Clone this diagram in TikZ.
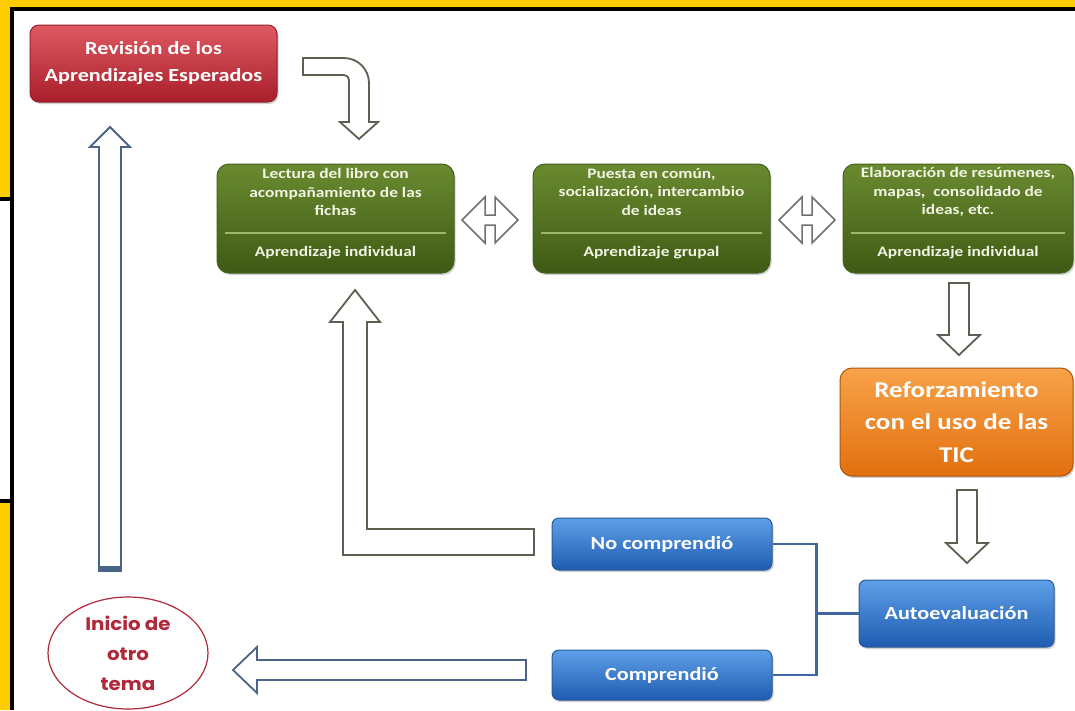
\documentclass[tikz,border=0pt]{standalone}
\usepackage{fontspec}
\setmainfont{Carlito}[FakeStretch=1.2]
\newfontfamily\gothic{Poppins}[FakeStretch=1.1]
\usetikzlibrary{shapes.geometric,shadows}
\definecolor{frameyellow}{HTML}{FFCC00}
\definecolor{redtop}{HTML}{DE5A62}
\definecolor{redbot}{HTML}{A81E2A}
\definecolor{redborder}{HTML}{96202A}
\definecolor{greentop}{HTML}{6A8A30}
\definecolor{greenbot}{HTML}{3E5A14}
\definecolor{greenborder}{HTML}{44621A}
\definecolor{gsep}{HTML}{9DB86C}
\definecolor{gtextcol}{HTML}{F2F4E4}
\definecolor{oratop}{HTML}{F8A24A}
\definecolor{orabot}{HTML}{E2700E}
\definecolor{oraborder}{HTML}{A85810}
\definecolor{bluetop}{HTML}{5E9FE8}
\definecolor{bluebot}{HTML}{1F5CB0}
\definecolor{blueborder}{HTML}{2A5A9A}
\definecolor{arrowolive}{HTML}{5C6050}
\definecolor{arrowgray}{HTML}{707070}
\definecolor{arrowblue}{HTML}{4A6488}
\definecolor{linkblue}{HTML}{3F66A0}
\definecolor{ellred}{HTML}{B0283A}
\tikzset{
  shadowed/.style={drop shadow={opacity=0.35, shadow xshift=1.5pt, shadow yshift=-2pt}},
  redbox/.style={shadowed, draw=redborder, line width=1pt, rounded corners=9pt,
    top color=redtop, bottom color=redbot, text=white, align=center, inner sep=0pt,
    font=\bfseries\fontsize{18.5}{27}\selectfont},
  greenbox/.style={shadowed, draw=greenborder, line width=1pt, rounded corners=12pt,
    top color=greentop, bottom color=greenbot, inner sep=0pt},
  gtext/.style={text=gtextcol, align=center, inner sep=0pt,
    font=\bfseries\fontsize{14.5}{18.5}\selectfont},
  sepline/.style={draw=gsep, line width=1.5pt},
  orangebox/.style={shadowed, draw=oraborder, line width=1pt, rounded corners=12pt,
    top color=oratop, bottom color=orabot, text=white, align=center, inner sep=0pt,
    font=\bfseries\fontsize{22.5}{32.5}\selectfont},
  bluebox/.style={shadowed, draw=blueborder, line width=1pt, rounded corners=7pt,
    top color=bluetop, bottom color=bluebot, text=white, align=center, inner sep=0pt,
    font=\bfseries\fontsize{18.5}{22}\selectfont},
  ellnode/.style={ellipse, draw=ellred, line width=1.2pt, fill=white, inner sep=0pt,
    text=ellred, align=center, font=\gothic\bfseries\fontsize{18}{30}\selectfont},
  olivearrow/.style={draw=arrowolive, line width=1.8pt, fill=white, line join=miter},
  grayarrow/.style={draw=arrowgray, line width=1.5pt, fill=white, line join=miter},
  bluearrow/.style={draw=arrowblue, line width=1.8pt, fill=white, line join=miter},
  link/.style={draw=linkblue, line width=2.5pt},
  dblarrow/.pic={\draw[grayarrow] (-28,0) -- (-5,-23) -- (-5,-5) -- (5,-5) -- (5,-23)
     -- (28,0) -- (5,23) -- (5,5) -- (-5,5) -- (-5,23) -- cycle;}
}
\begin{document}
\begin{tikzpicture}[x=1pt,y=-1pt]
\useasboundingbox (0,0) rectangle (1075,710);
% frame
\fill[frameyellow] (0,0) rectangle (1075,710);
\fill[white] (12,9) rectangle (1075,710);
\fill[white] (0,199) rectangle (12,501);
\draw[black, line width=3.5pt] (12,710) -- (12,8.75) -- (1075,8.75);
\draw[black, line width=3.5pt] (0,199) -- (12,199);
\draw[black, line width=3.5pt] (0,501) -- (12,501);

% red box
\node[redbox, minimum width=247pt, minimum height=77pt] (rev) at (153.5,63.5)
  {Revisión de los\\Aprendizajes Esperados};

% curved arrow
\draw[olivearrow] (303,58) -- (344,58) arc[start angle=-90,end angle=0,radius=25]
  -- (369,122) -- (378,122) -- (359,139) -- (340,122) -- (349,122) -- (349,80)
  arc[start angle=0,end angle=-90,radius=5] -- (303,75) -- cycle;

% green boxes
\node[greenbox, minimum width=237pt, minimum height=109pt] (g1) at (335.5,218.5) {};
\node[greenbox, minimum width=237pt, minimum height=109pt] (g2) at (651.5,218.5) {};
\node[greenbox, minimum width=230pt, minimum height=109pt] (g3) at (958,218.5) {};
\draw[sepline] (225,233) -- (446,233);
\draw[sepline] (541,233) -- (762,233);
\draw[sepline] (851,233) -- (1065,233);
\node[gtext] (g1t) at (335.5,192) {Lectura del libro con\\acompañamiento de las\\fichas};
\node[gtext] (g1b) at (335.5,253) {Aprendizaje individual};
\node[gtext] (g2t) at (651.5,192) {Puesta en común,\\socialización, intercambio\\de ideas};
\node[gtext] (g2b) at (651.5,253) {Aprendizaje grupal};
\node[gtext] (g3t) at (958,192) {Elaboración de resúmenes,\\mapas,\ \ consolidado de\\ideas, etc.};
\node[gtext] (g3b) at (958,253) {Aprendizaje individual};

% double arrows
\pic at (490,220) {dblarrow};
\pic at (807,220) {dblarrow};

% orange box
\node[orangebox, minimum width=233pt, minimum height=108pt] (ref) at (956.5,422)
  {Reforzamiento\\con el uso de las\\TIC};

% down arrows
\draw[olivearrow] (949,283) -- (969,283) -- (969,335) -- (980,335) -- (959,355)
  -- (938,335) -- (949,335) -- cycle;
\draw[olivearrow] (957,490) -- (977,490) -- (977,543) -- (988,543) -- (967,563)
  -- (946,543) -- (957,543) -- cycle;

% blue boxes
\node[bluebox, minimum width=195pt, minimum height=67pt] (ae) at (956.5,613.5) {Autoevaluación};
\node[bluebox, minimum width=220pt, minimum height=52pt] (nc) at (662,544) {No comprendió};
\node[bluebox, minimum width=220pt, minimum height=50pt] (co) at (662,675) {Comprendió};
\draw[link] (nc.east) -- ++(44,0) |- (co.east);
\draw[link] (ae.west) -- ++(-43.5,0);

% L arrow back to first green box
\draw[olivearrow] (355,290) -- (380,322) -- (367,322) -- (367,529) -- (534,529)
  -- (534,555) -- (343,555) -- (343,322) -- (330,322) -- cycle;

% long blue up arrow
\draw[bluearrow] (110,127) -- (130,147) -- (121,147) -- (121,571) -- (99,571)
  -- (99,147) -- (90,147) -- cycle;
\fill[arrowblue] (99.9,566) rectangle (120.1,571);

% ellipse
\node[ellnode, minimum width=160pt, minimum height=112pt] (ini) at (128,653)
  {Inicio de\\otro\\tema};

% left blue arrow
\draw[bluearrow] (233,670) -- (257,647) -- (257,660) -- (526,660) -- (526,680)
  -- (257,680) -- (257,693) -- cycle;
\end{tikzpicture}
\end{document}
